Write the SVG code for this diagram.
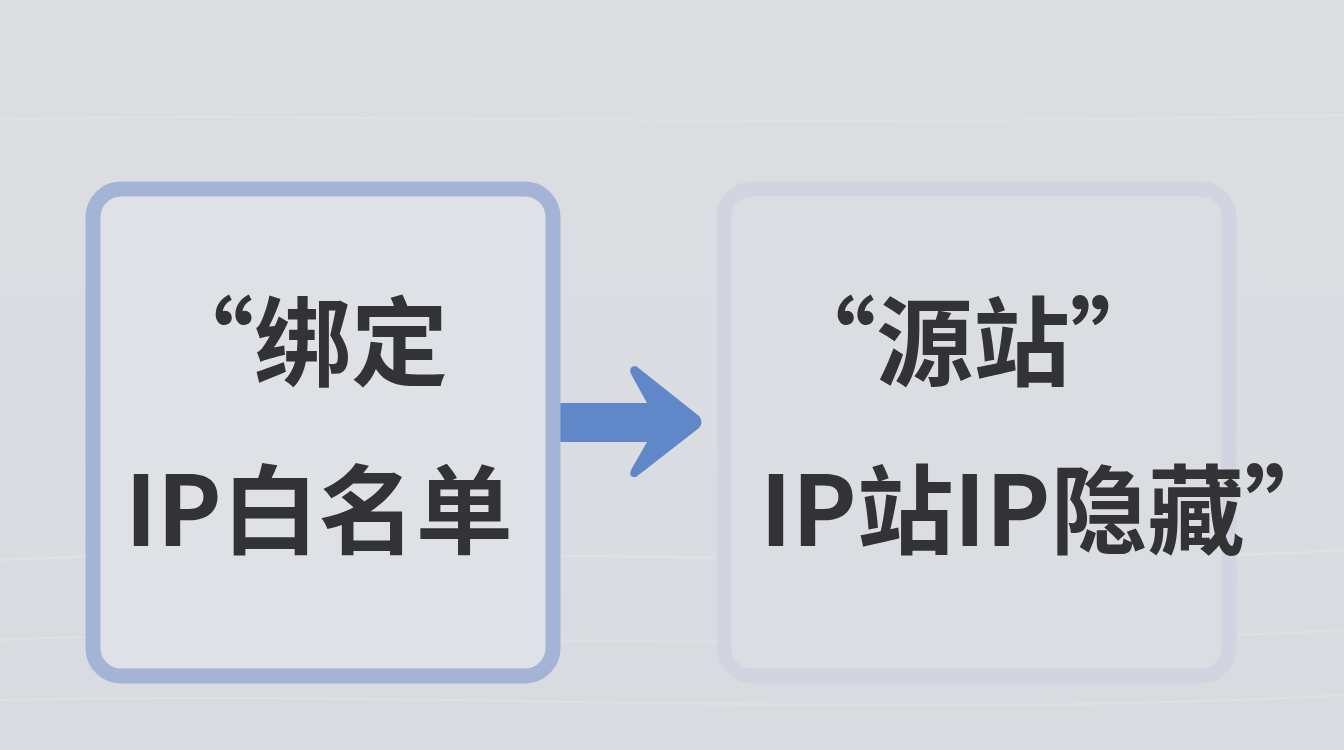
<svg xmlns="http://www.w3.org/2000/svg" width="1344" height="750" viewBox="0 0 1344 750">
<style>
.t{font-family:"Noto Sans CJK SC","Noto Sans",sans-serif;font-size:97px;font-weight:700;fill:#333335}
.box{stroke-width:15;rx:28}
</style>
<defs>
<linearGradient id="bg" x1="0" y1="0" x2="0" y2="1">
<stop offset="0" stop-color="#dcdee2"/>
<stop offset="1" stop-color="#d8dbe0"/>
</linearGradient>
</defs>
<rect width="1344" height="750" fill="url(#bg)"/>
<g stroke="#e3e5e8" stroke-width="2" fill="none" opacity="0.6">
<path d="M0 120 C300 110 700 130 1344 115"/>
<path d="M0 560 C400 540 900 575 1344 550"/>
<path d="M0 640 C300 625 800 660 1344 630"/>
<path d="M0 700 C400 690 900 720 1344 695"/>
</g>
<g id="connectors">
<path d="M560 403 H647 L631 374 Q628 366 636 366 L699 416 Q704 422 699 428 L636 477 Q628 478 631 470 L647 442 H560 Z" fill="#6087c8"/>
</g>
<g id="node-left">
<rect class="box" x="93" y="189" width="460" height="487" fill="#dee1e6" stroke="#a3b4d6"/>
<text class="t" x="157" y="378">“绑定</text>
<text class="t" x="125" y="546">IP白名单</text>
</g>
<g id="node-right">
<rect class="box" x="724" y="189" width="505" height="487" fill="#dadde2" stroke="#d2d5df"/>
<text class="t" x="779" y="378">“源站”</text>
<text class="t" x="760" y="546">IP站IP隐藏”</text>
</g>
</svg>
